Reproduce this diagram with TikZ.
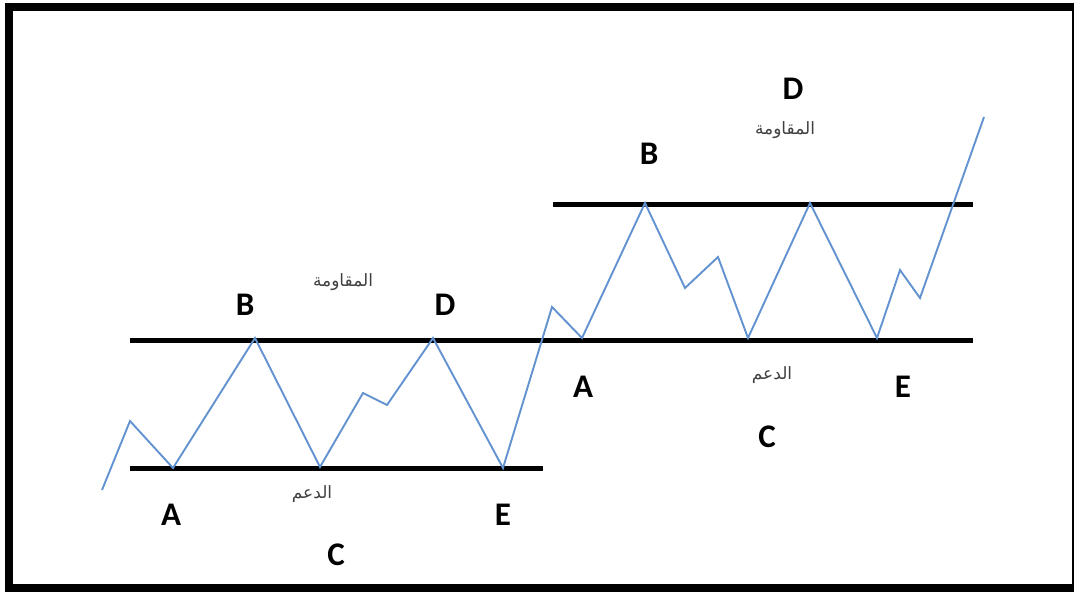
\documentclass[tikz,border=0pt]{standalone}
\usepackage{fontspec}
\setmainfont{Carlito}
\newfontfamily\arabicfont[Script=Arabic]{DejaVu Sans}
\TeXXeTstate=1
\definecolor{xanhgia}{RGB}{98,146,208}

\begin{document}
\begin{tikzpicture}[x=1pt, y=-1pt,
    chu/.style={font=\fontsize{33}{33}\selectfont\bfseries},
    nhan/.style={font=\arabicfont\fontsize{17}{17}\selectfont, text=black!75},
    duongngang/.style={line width=5pt, black}]
    \useasboundingbox (0,0) rectangle (1075,592);
    % Khung
    \draw[line width=8pt] (1073,7) -- (9,7) -- (9,588) -- (1073,588);
    \draw[line width=2pt] (1073,3) -- (1073,592);
    % Cac duong ho tro va khang cu
    \coordinate (h1) at (130,468);  \coordinate (h2) at (543,468);
    \coordinate (g1) at (130,340);  \coordinate (g2) at (973,340);
    \coordinate (k1) at (553,204);  \coordinate (k2) at (973,204);
    \draw[duongngang] (h1) -- (h2);
    \draw[duongngang] (g1) -- (g2);
    \draw[duongngang] (k1) -- (k2);
    % Duong gia
    \draw[xanhgia, line width=1.9pt, line join=miter]
        (102,490) -- (130,421) -- (173,468) -- (255,338) -- (320,467)
        -- (363,393) -- (387,405) -- (433,338) -- (503,468) -- (552,307)
        -- (582,338) -- (645,203) -- (685,288) -- (718,257) -- (748,338)
        -- (810,203) -- (877,338) -- (900,270) -- (920,298) -- (984,117);
    % Cac diem
    \node[chu] (a1) at (171,515) {A};
    \node[chu] (b1) at (245,305) {B};
    \node[chu] (c1) at (336,555) {C};
    \node[chu] (d1) at (445,305) {D};
    \node[chu] (e1) at (503,515) {E};
    \node[chu] (a2) at (583,387) {A};
    \node[chu] (b2) at (649,154) {B};
    \node[chu] (c2) at (767,437) {C};
    \node[chu] (d2) at (793,89) {D};
    \node[chu] (e2) at (903,387) {E};
    % Nhan
    \node[nhan] (kc1) at (343,282) {\beginR المقاومة\endR};
    \node[nhan] (kc2) at (785,130) {\beginR المقاومة\endR};
    \node[nhan] (ht1) at (312,494) {\beginR الدعم\endR};
    \node[nhan] (ht2) at (772,375) {\beginR الدعم\endR};
\end{tikzpicture}
\end{document}
